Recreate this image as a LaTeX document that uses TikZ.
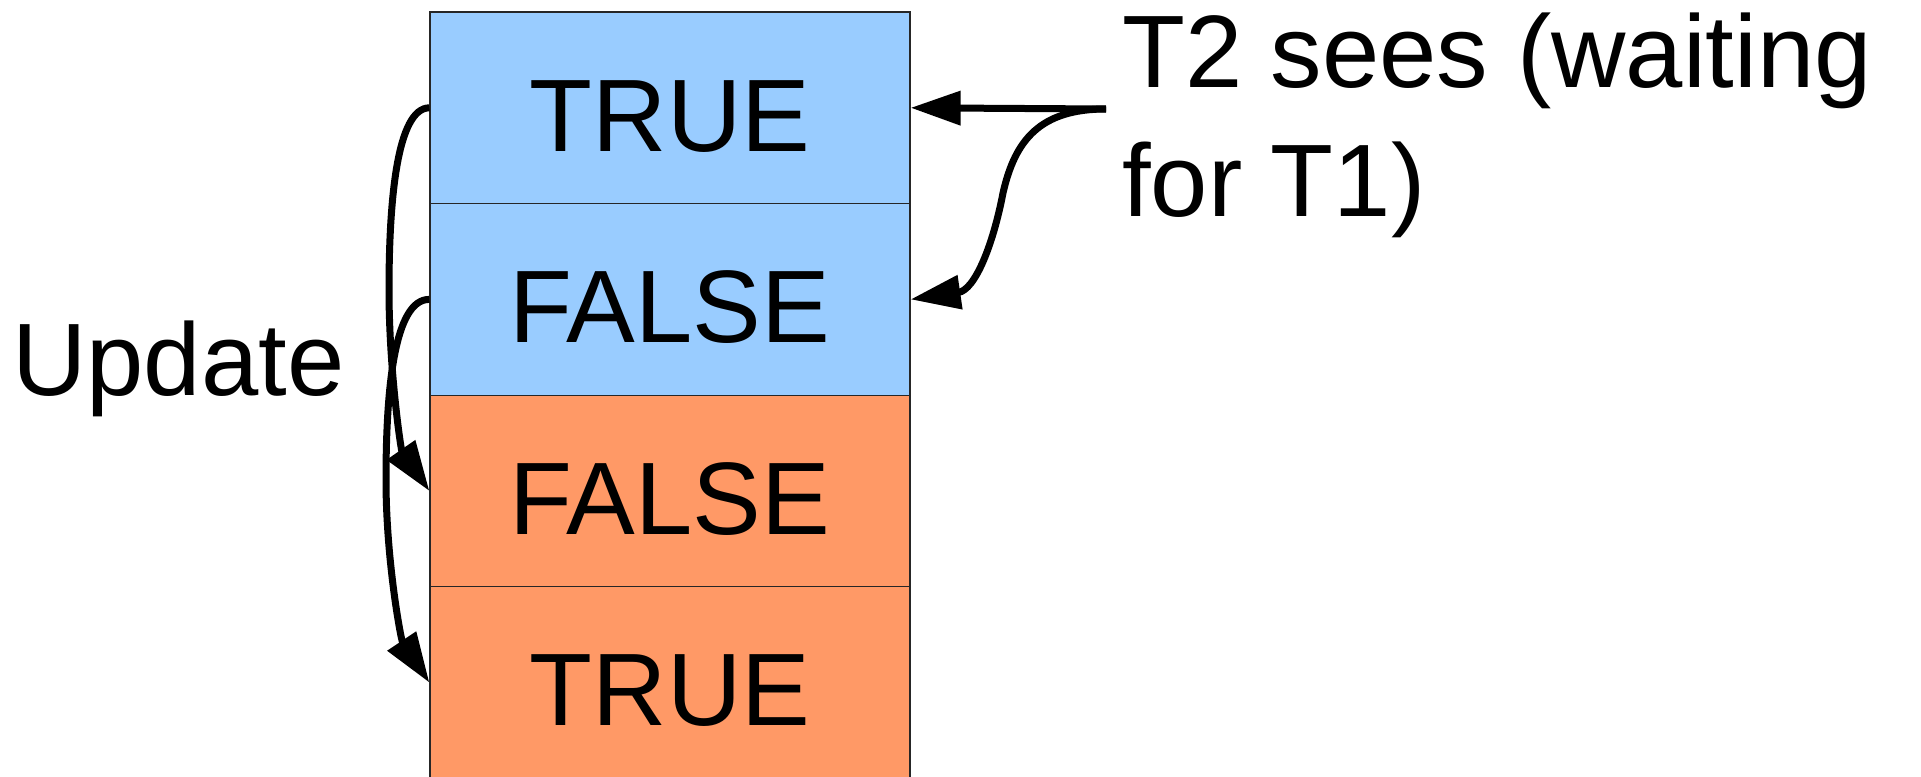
\documentclass[tikz,border=0pt]{standalone}
\usepackage{fontspec}
\setmainfont{Liberation Sans}
\usetikzlibrary{arrows.meta}
\definecolor{cellblue}{HTML}{99CCFF}
\definecolor{cellorange}{HTML}{FF9966}
\tikzset{
  cell/.style={draw=black!85, line width=1.2pt, minimum width=480pt, minimum height=191.6pt,
    inner sep=0pt, text height=86.4pt, text depth=0pt,
    font=\fontsize{103pt}{124pt}\selectfont},
  lbl/.style={inner sep=0pt, anchor=base west, font=\fontsize{103pt}{124pt}\selectfont},
  arr/.style={line width=7pt, -{Triangle[length=50pt,width=33pt]}}
}
\begin{document}
\begin{tikzpicture}[x=1pt,y=-1pt]
\useasboundingbox (0,0) rectangle (1921,776);
\node[cell, fill=cellblue]   (c1) at (670,107.8) {TRUE};
\node[cell, fill=cellblue]   (c2) at (670,299.4) {FALSE};
\node[cell, fill=cellorange] (c3) at (670,491.0) {FALSE};
\node[cell, fill=cellorange] (c4) at (670,682.6) {TRUE};
\node[lbl] (upd) at (12,395) {Update};
\node[lbl] (t2a) at (1122,88) {T2 sees (waiting};
\node[lbl] (t2b) at (1122,216) {for T1)};
\coordinate (src) at (1106,109);
% right arrows
\draw[arr] (src) -- (c1.east);
\draw[arr] (src) .. controls (1040,109) and (1015,140) .. (1003,193)
  .. controls (993,245) and (975,290) .. (c2.east);
% left arrows
\draw[arr] (c1.west) .. controls (397,108) and (389,200) .. (389,290)
  .. controls (389,370) and (401,450) .. (c3.west);
\draw[arr] (c2.west) .. controls (394,299) and (386,390) .. (386,480)
  .. controls (386,560) and (401,640) .. (c4.west);
\end{tikzpicture}
\end{document}
